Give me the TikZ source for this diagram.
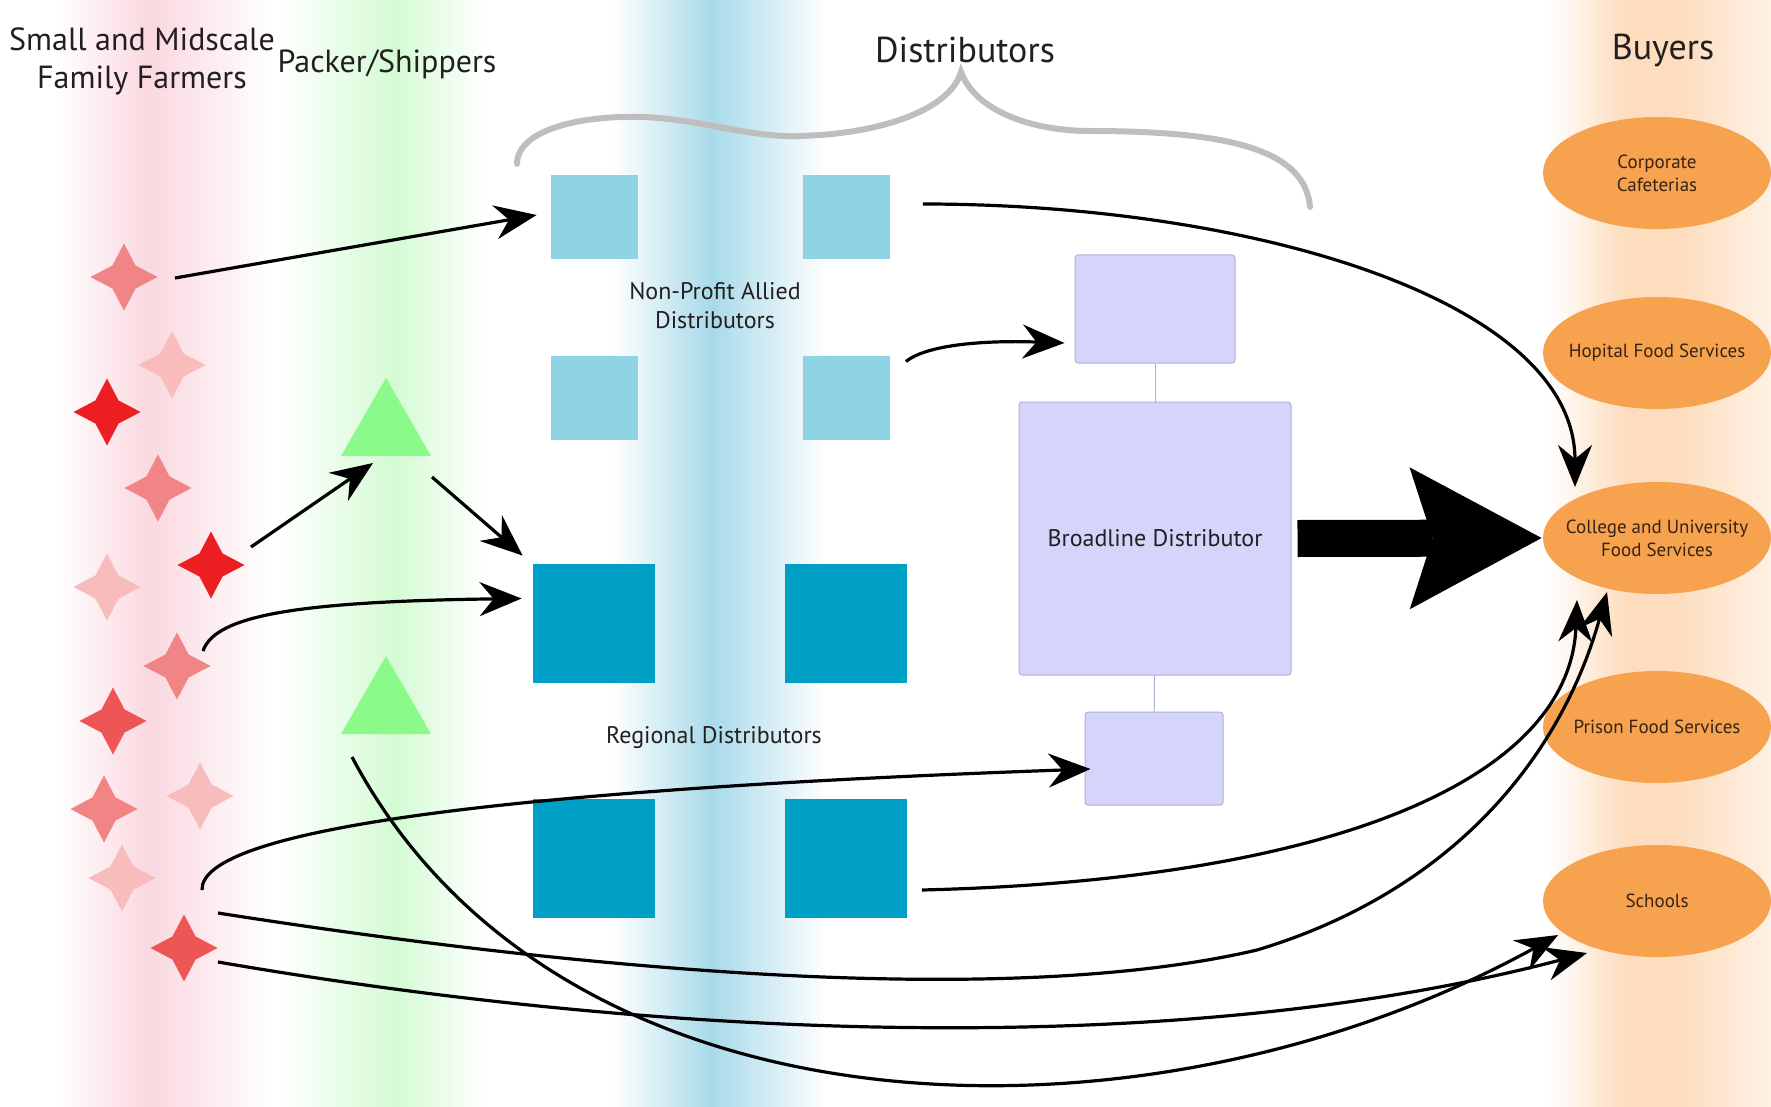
\documentclass[tikz,border=0pt]{standalone}
\usepackage{fontspec}
\setmainfont{PT Sans}
\usetikzlibrary{shapes.geometric,arrows.meta,calc}

\definecolor{farmband}{RGB}{250,216,224}
\definecolor{packband}{RGB}{212,251,212}
\definecolor{distband}{RGB}{168,218,234}
\definecolor{buyband}{RGB}{253,221,190}
\definecolor{farmlight}{RGB}{248,188,188}
\definecolor{farmmid}{RGB}{241,132,132}
\definecolor{farmdeep}{RGB}{238,85,85}
\definecolor{farmred}{RGB}{237,30,34}
\definecolor{packfill}{RGB}{138,250,138}
\definecolor{npblue}{RGB}{143,212,228}
\definecolor{regblue}{RGB}{0,160,198}
\definecolor{lavfill}{RGB}{213,212,250}
\definecolor{lavedge}{RGB}{175,175,215}
\definecolor{buyfill}{RGB}{246,162,78}
\definecolor{buytext}{RGB}{55,35,20}
\definecolor{titletext}{RGB}{35,31,32}
\definecolor{bracegray}{RGB}{190,190,190}

\tikzset{
  farmer/.style={star, star points=4, star point ratio=2.05, minimum size=33.5pt, inner sep=0pt},
  packer/.style={regular polygon, regular polygon sides=3, minimum size=52pt, inner sep=0pt, fill=packfill},
  npbox/.style={rectangle, fill=npblue, minimum width=43.5pt, minimum height=42pt, inner sep=0pt},
  regbox/.style={rectangle, fill=regblue, minimum width=61pt, minimum height=59.5pt, inner sep=0pt},
  bdbox/.style={rectangle, rounded corners=1.5pt, fill=lavfill, draw=lavedge, line width=0.5pt, inner sep=0pt},
  buyer/.style={ellipse, fill=buyfill, minimum width=114pt, minimum height=56pt, inner sep=-9pt, align=center, text=buytext, font=\fontsize{9.5}{11.5}\selectfont},
  heading/.style={align=center, text=titletext, font=\fontsize{16}{19}\selectfont},
  grouplabel/.style={align=center, text=titletext, font=\fontsize{12}{14.5}\selectfont},
  flow/.style={line width=1.6pt, -{Stealth[length=21pt,width=17pt,inset=7pt]}},
  link/.style={draw=lavedge, line width=0.5pt},
}

\begin{document}
\begin{tikzpicture}[x=0.5pt,y=-0.5pt]
\useasboundingbox (0,0) rectangle (1771,1107);

% column bands
\shade[left color=white, right color=farmband] (55,0) rectangle (150,1107);
\shade[left color=farmband, right color=white] (150,0) rectangle (272,1107);
\shade[left color=white, right color=packband] (280,0) rectangle (395,1107);
\shade[left color=packband, right color=white] (395,0) rectangle (485,1107);
\shade[left color=white, right color=distband] (612,0) rectangle (712,1107);
\shade[left color=distband, right color=white] (712,0) rectangle (826,1107);
\shade[left color=white, right color=buyband] (1548,0) rectangle (1625,1107);
\fill[buyband] (1625,0) rectangle (1680,1107);
\shade[left color=buyband, right color=buyband!40] (1680,0) rectangle (1771,1107);

% headings
\node[heading] (farmers) at (142,61) {Small and Midscale\\Family Farmers};
\node[heading] (packers) at (387,64) {Packer/Shippers};
\node[heading, font=\fontsize{18}{21}\selectfont] (distributors) at (965,50) {Distributors};
\node[heading, font=\fontsize{18}{21}\selectfont] (buyers) at (1663,50) {Buyers};

% brace over the distributors
\draw[bracegray, line width=3pt, line cap=round]
  (517,164) .. controls (517,130) and (580,115) .. (643,117)
  .. controls (700,119) and (750,138) .. (800,136)
  .. controls (880,134) and (950,110) .. (961,72)
  .. controls (975,110) and (1030,131) .. (1090,131)
  .. controls (1230,131) and (1305,150) .. (1310,207);

% farmers
\foreach \n/\x/\y/\c in {1/124/277/farmmid, 2/172/365/farmlight, 3/107/412/farmred,
    4/158/488/farmmid, 5/211/565/farmred, 6/107/587/farmlight, 7/177/666/farmmid,
    8/113/721/farmdeep, 9/104/809/farmmid, 10/200/796/farmlight, 11/122/878/farmlight,
    12/184/948/farmdeep}
  \node[farmer, fill=\c] (f\n) at (\x,\y) {};

% packer/shippers
\node[packer] (t1) at (386,430) {};
\node[packer] (t2) at (386,708) {};

% distributors
\node[npbox] (np1) at (594.5,217) {};
\node[npbox] (np2) at (846,217) {};
\node[npbox] (np3) at (594.5,397.5) {};
\node[npbox] (np4) at (846,397.5) {};
\node[grouplabel] (nplabel) at (715,306) {Non-Profit Allied\\Distributors};

\node[regbox] (rg1) at (594,623.5) {};
\node[regbox] (rg2) at (845.5,623.5) {};
\node[regbox] (rg3) at (594,858) {};
\node[regbox] (rg4) at (845.5,858) {};
\node[grouplabel] (reglabel) at (714,738) {Regional Distributors};

\node[bdbox, minimum width=80pt, minimum height=54pt] (lavtop) at (1155,309) {};
\node[bdbox, minimum width=136pt, minimum height=136.5pt, font=\fontsize{12}{14}\selectfont, text=titletext] (bd) at (1155,538.5) {Broadline Distributor};
\node[bdbox, minimum width=69pt, minimum height=46.5pt] (lavbot) at (1154,758.5) {};
\draw[link] (lavtop) -- (bd);
\draw[link] (bd) -- (lavbot);

% buyers
\node[buyer] (corp) at (1657,173) {Corporate\\Cafeterias};
\node[buyer] (hosp) at (1657,353) {Hopital Food Services};
\node[buyer] (college) at (1657,538) {College and University\\Food Services};
\node[buyer] (prison) at (1657,727) {Prison Food Services};
\node[buyer] (schools) at (1657,901) {Schools};

% flows
\draw[flow] ($(f1)+(51,1)$) -- ($(np1.west)+(-14,-2)$);
\draw[flow] ($(f5)+(40,-18)$) -- ($(t1)+(-13,33)$);
\draw[flow] ($(t1)+(46,47)$) -- ($(rg1.north west)+(-10,-8)$);
\draw[flow] ($(f7)+(26,-15)$) .. controls +(12,-36) and +(-222,3) .. ($(rg1.west)+(-11,-25)$);
\draw[flow] ($(np4.east)+(16,-36)$) .. controls +(20,-16) and +(-85,-3) .. ($(lavtop.west)+(-10,34)$);
\draw[flow] ($(np2.east)+(33,-13)$) .. controls +(328,0) and +(0,-187) .. ($(college)+(-82,-51)$);
\draw[flow] ($(f11)+(80,12)$) .. controls +(-2,-60) and +(-591,21) .. ($(lavbot.west)+(6,10.5)$);
\draw[flow] ($(rg4.east)+(15,32)$) .. controls +(409,-10) and +(-7,180) .. ($(college)+(-80,62)$);
\draw[flow] ($(f12)+(34,-35)$) .. controls +(350,55) and +(-257,60) .. (1257,950)
  .. controls +(193,-58) and +(-47,168) .. ($(college)+(-50,54)$);
\draw[flow] ($(f12)+(34,14)$) .. controls +(482,83) and +(-387,102) .. ($(schools)+(-70,52)$);
\draw[flow] ($(t2)+(-34,49)$) .. controls +(208,393) and +(-408,225) .. ($(schools)+(-99,34)$);

% broadline to college
\draw[line width=18.5pt, -{Stealth[length=66pt,width=71pt,inset=11.5pt,line width=0pt]}] ($(bd.east)+(6,0)$) -- ($(college.west)+(-1,0)$);

\end{tikzpicture}
\end{document}
